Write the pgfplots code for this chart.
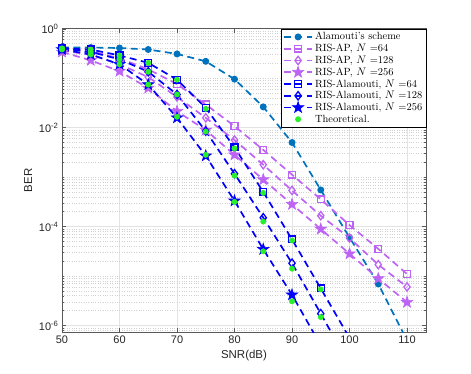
\documentclass[border=0pt]{standalone}
\usepackage{fontspec}
\setmainfont{Liberation Sans}
\newfontfamily\lmr{Latin Modern Roman}
\usepackage{pgfplots}
\pgfplotsset{compat=1.18}
\definecolor{mteal}{RGB}{0,114,189}
\definecolor{mpurp}{RGB}{190,100,245}
\definecolor{mblue}{RGB}{0,0,255}
\definecolor{mgreen}{RGB}{40,240,40}
\pgfdeclareplotmark{pent}{%
  \pgfpathmoveto{\pgfqpointpolar{90}{\pgfplotmarksize}}%
  \pgfpathlineto{\pgfqpointpolar{126}{0.4\pgfplotmarksize}}%
  \pgfpathlineto{\pgfqpointpolar{162}{\pgfplotmarksize}}%
  \pgfpathlineto{\pgfqpointpolar{198}{0.4\pgfplotmarksize}}%
  \pgfpathlineto{\pgfqpointpolar{234}{\pgfplotmarksize}}%
  \pgfpathlineto{\pgfqpointpolar{270}{0.4\pgfplotmarksize}}%
  \pgfpathlineto{\pgfqpointpolar{306}{\pgfplotmarksize}}%
  \pgfpathlineto{\pgfqpointpolar{342}{0.4\pgfplotmarksize}}%
  \pgfpathlineto{\pgfqpointpolar{18}{\pgfplotmarksize}}%
  \pgfpathlineto{\pgfqpointpolar{54}{0.4\pgfplotmarksize}}%
  \pgfpathclose
  \pgfusepathqfillstroke}
\pgfplotsset{
  mylegend/.style={legend image code/.code={%
      \draw[mark=none] (0cm,0cm) -- (1cm,0cm);
      \draw plot coordinates {(0.5cm,0cm)};}},
  myline/.style={line width=1.7pt, dash pattern=on 7pt off 4.5pt, mylegend},
}
\begin{document}
\begin{tikzpicture}
\begin{axis}[
  scale only axis, width=364bp, height=303.3bp,
  ymode=log, xmin=50, xmax=113.3, ymin=7.4e-7, ymax=1,
  xtick={50,60,...,110},
  ytick={1e-6,1e-4,1e-2,1},
  yticklabels={10\textsuperscript{-6},10\textsuperscript{-4},10\textsuperscript{-2},10\textsuperscript{0}},
  minor ytick={8e-7,9e-7,2e-6,3e-6,4e-6,5e-6,6e-6,7e-6,8e-6,9e-6,1e-5,2e-5,3e-5,4e-5,5e-5,6e-5,7e-5,8e-5,9e-5,2e-4,3e-4,4e-4,5e-4,6e-4,7e-4,8e-4,9e-4,1e-3,2e-3,3e-3,4e-3,5e-3,6e-3,7e-3,8e-3,9e-3,2e-2,3e-2,4e-2,5e-2,6e-2,7e-2,8e-2,9e-2,1e-1,2e-1,3e-1,4e-1,5e-1,6e-1,7e-1,8e-1,9e-1},
  grid=both,
  major grid style={gray!22, line width=0.6pt},
  minor grid style={gray!35, dotted, line width=0.5pt},
  tick align=inside,
  major tick length=4pt, minor tick length=2pt,
  axis line style={black!65, line width=0.6pt},
  every tick/.style={black!65},
  /pgf/number format/assume math mode=true,
  tick label style={font=\fontsize{11}{13}\selectfont, text=black!85},
  label style={font=\fontsize{11.5}{13}\selectfont, text=black!85},
  xlabel={SNR(dB)}, ylabel={BER},
  legend cell align=left,
  legend style={at={(1,1)}, anchor=north east, draw=black, line width=0.5pt,
    font=\lmr\fontsize{10.5}{12}\selectfont, inner sep=1.5pt, row sep=-1.2pt},
]
% Alamouti's scheme
\addplot[myline, color=mteal, mark=*, mark size=2.6pt, mark options={solid, fill=mteal}, mark indices={1,2,3,4,5,6,7,8,9,10,11,12}]
 coordinates {(50,0.417)(55,0.417)(60,0.407)(65,0.380)(70,0.309)(75,0.219)(80,0.0955)(85,0.0263)(90,0.00501)(95,5.5e-4)(100,6.03e-5)(105,6.92e-6)(110,5.0e-7)};
\addlegendentry{Alamouti’s scheme}
% RIS-AP
\addplot[myline, color=mpurp, mark=square, mark size=3.4pt, mark options={solid, line width=1.3pt}]
 coordinates {(50,0.380)(55,0.355)(60,0.251)(65,0.151)(70,0.0759)(75,0.0295)(80,0.0107)(85,0.00355)(90,0.00112)(95,3.55e-4)(100,1.07e-4)(105,3.55e-5)(110,1.10e-5)};
\addlegendentry{RIS-AP, $N$ =64}
\addplot[myline, color=mpurp, mark=diamond, mark size=4.2pt, mark options={solid, line width=1.3pt}]
 coordinates {(50,0.363)(55,0.295)(60,0.191)(65,0.105)(70,0.0417)(75,0.0158)(80,0.00562)(85,0.00178)(90,5.37e-4)(95,1.66e-4)(100,5.89e-5)(105,1.70e-5)(110,6.03e-6)};
\addlegendentry{RIS-AP, $N$ =128}
\addplot[myline, color=mpurp, mark=pent, mark size=6pt, mark options={solid, fill=mpurp, line width=0.6pt}]
 coordinates {(50,0.339)(55,0.229)(60,0.138)(65,0.0631)(70,0.0214)(75,0.00891)(80,0.00282)(85,8.91e-4)(90,2.82e-4)(95,8.91e-5)(100,2.82e-5)(105,8.91e-6)(110,2.95e-6)};
\addlegendentry{RIS-AP, $N$ =256}
% RIS-Alamouti
\addplot[myline, color=mblue, mark=square, mark size=3.4pt, mark options={solid, line width=1.3pt}, mark indices={1,2,3,4,5,6,7,8,9,10}]
 coordinates {(50,0.398)(55,0.380)(60,0.288)(65,0.204)(70,0.0933)(75,0.0251)(80,0.00398)(85,5.01e-4)(90,5.50e-5)(95,5.62e-6)(100,5.62e-7)};
\addlegendentry{RIS-Alamouti, $N$ =64}
\addplot[myline, color=mblue, mark=diamond, mark size=4.2pt, mark options={solid, line width=1.3pt}, mark indices={1,2,3,4,5,6,7,8,9,10}]
 coordinates {(50,0.398)(55,0.339)(60,0.240)(65,0.135)(70,0.0468)(75,0.00851)(80,0.00117)(85,1.51e-4)(90,1.82e-5)(95,1.74e-6)(100,1.58e-7)};
\addlegendentry{RIS-Alamouti, $N$ =128}
\addplot[myline, color=mblue, mark=pent, mark size=6pt, mark options={solid, fill=mblue, line width=0.6pt}, mark indices={1,2,3,4,5,6,7,8,9}]
 coordinates {(50,0.380)(55,0.302)(60,0.191)(65,0.0741)(70,0.0158)(75,0.00269)(80,3.31e-4)(85,3.47e-5)(90,4.17e-6)(95,3.98e-7)};
\addlegendentry{RIS-Alamouti, $N$ =256}
% Theoretical
\addplot[only marks, mark=*, mark size=2.7pt, color=mgreen, mark options={fill=mgreen, draw=mgreen},
  legend image code/.code={\draw plot coordinates {(0.5cm,0cm)};}]
 coordinates {(50,0.398)(55,0.380)(60,0.288)(65,0.204)(70,0.0933)(75,0.0240)(80,0.00380)(85,4.79e-4)(90,5.25e-5)(95,5.37e-6)};
\addlegendentry{Theoretical.}
\addplot[forget plot, only marks, mark=*, mark size=2.7pt, color=mgreen, mark options={fill=mgreen, draw=mgreen}]
 coordinates {(50,0.398)(55,0.339)(60,0.240)(65,0.135)(70,0.0468)(75,0.00832)(80,0.00107)(85,1.26e-4)(90,1.41e-5)(95,1.48e-6)};
\addplot[forget plot, only marks, mark=*, mark size=2.7pt, color=mgreen, mark options={fill=mgreen, draw=mgreen}]
 coordinates {(50,0.380)(55,0.302)(60,0.191)(65,0.0741)(70,0.0166)(75,0.00282)(80,3.16e-4)(85,3.16e-5)(90,3.09e-6)};
\end{axis}
\path ([shift={(-62bp,-42bp)}]current axis.south west) rectangle ([shift={(45bp,28.7bp)}]current axis.north east);
\end{tikzpicture}
\end{document}
